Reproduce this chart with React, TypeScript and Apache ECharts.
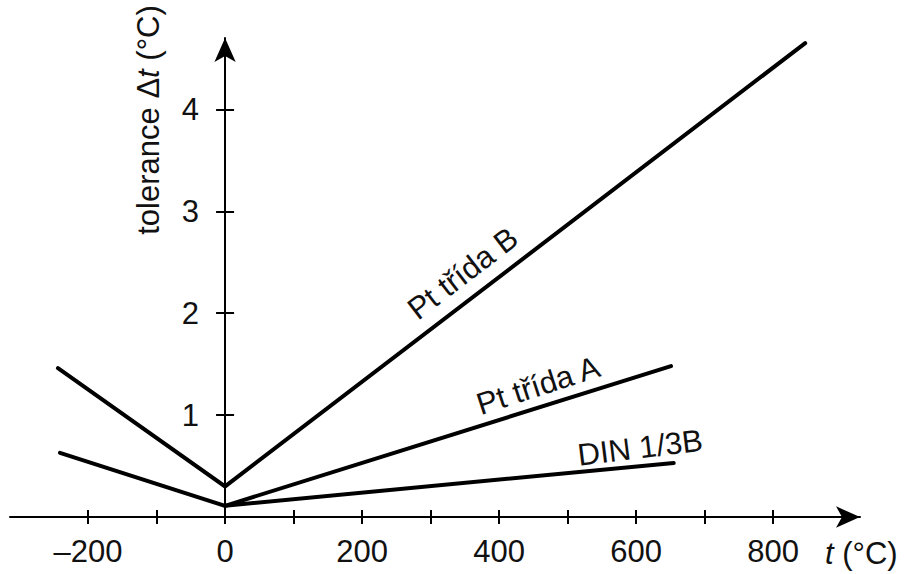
import React, { useEffect, useRef } from 'react';
import * as echarts from 'echarts';

const xTicks = [-200, -100, 0, 100, 200, 300, 400, 500, 600, 700, 800];
const xLabels = [-200, 0, 200, 400, 600, 800];
const yTicks = [1, 2, 3, 4];

const classB: number[][] = [[-244, 1.46], [0, 0.3], [847, 4.65]];
const classA: number[][] = [[-241, 0.63], [0, 0.11], [651, 1.48]];
const din13B: number[][] = [[0, 0.11], [655, 0.53]];

const lineLabels = [
  { text: 'Pt třída B', at: [347, 2.39], angle: 37.5 },
  { text: 'Pt třída A', at: [457, 1.29], angle: 18 },
  { text: 'DIN 1/3B', at: [606, 0.68], angle: 7 },
];

const FONT = '"Liberation Sans", Arial, Helvetica, sans-serif';
const INK = '#111';
const FS = 31;

export default function App() {
  const ref = useRef<HTMLDivElement>(null);
  useEffect(() => {
    if (!ref.current) return;
    const chart = echarts.init(ref.current, undefined, { renderer: 'svg' });
    const W = 921;
    const gLeft = 10, gRight = 61, gTop = 38, gBottom = 57;
    const xMin = -314, xMax = 927, yMin = 0, yMax = 4.7;
    const gridW = W - gLeft - gRight;
    const yOffset = -((0 - xMin) / (xMax - xMin)) * gridW;
    const fmt = (v: number) => (v < 0 ? '\u2013' + Math.abs(v) : String(v));
    const baseX = {
      type: 'value', min: xMin, max: xMax, splitLine: { show: false }, position: 'bottom',
    };
    const baseY = {
      type: 'value', min: yMin, max: yMax, splitLine: { show: false }, position: 'left', offset: yOffset,
    };
    const option: any = {
      animation: false,
      backgroundColor: '#fff',
      grid: {
        left: gLeft, right: gRight, top: gTop, bottom: gBottom,
        containLabel: false, outerBoundsMode: 'none',
      },
      xAxis: [
        {
          ...baseX,
          axisLine: {
            show: true, onZero: false,
            symbol: ['none', 'arrow'], symbolSize: [16, 24],
            lineStyle: { color: '#000', width: 2 },
          },
          axisTick: { show: true, customValues: xTicks, length: 7, lineStyle: { color: '#000', width: 2 } },
          axisLabel: {
            show: true, customValues: xLabels, formatter: fmt, margin: 19,
            fontSize: FS, fontFamily: FONT, color: INK,
          },
        },
        {
          ...baseX,
          axisLine: { show: false, onZero: false },
          axisTick: { show: true, inside: true, customValues: xTicks, length: 7, lineStyle: { color: '#000', width: 2 } },
          axisLabel: { show: false },
        },
      ],
      yAxis: [
        {
          ...baseY,
          axisLine: {
            show: true, onZero: false,
            symbol: ['none', 'arrow'], symbolSize: [16, 24],
            lineStyle: { color: '#000', width: 2 },
          },
          axisTick: { show: true, customValues: yTicks, length: 9, lineStyle: { color: '#000', width: 2 } },
          axisLabel: {
            show: true, customValues: yTicks, margin: 26,
            fontSize: FS, fontFamily: FONT, color: INK,
          },
        },
        {
          ...baseY,
          axisLine: { show: false, onZero: false },
          axisTick: { show: true, inside: true, customValues: yTicks, length: 9, lineStyle: { color: '#000', width: 2 } },
          axisLabel: { show: false },
        },
      ],
      series: [
        { name: 'Pt třída B', data: classB },
        { name: 'Pt třída A', data: classA },
        { name: 'DIN 1/3B', data: din13B },
      ].map((s) => ({
        ...s,
        type: 'line',
        xAxisIndex: 0,
        yAxisIndex: 0,
        symbol: 'none',
        clip: false,
        lineStyle: { color: '#000', width: 4, cap: 'round', join: 'miter' },
      })),
    };
    chart.setOption(option);

    const texts: any[] = lineLabels.map((l) => {
      const p = chart.convertToPixel({ xAxisIndex: 0, yAxisIndex: 0 }, l.at) as number[];
      return {
        type: 'text',
        x: p[0],
        y: p[1],
        rotation: (l.angle * Math.PI) / 180,
        style: {
          text: l.text, fontSize: FS, fontFamily: FONT, fill: INK,
          align: 'center', verticalAlign: 'middle',
        },
      };
    });
    const rich = {
      n: { fontSize: FS, fontFamily: FONT, fill: INK },
      i: { fontSize: FS, fontFamily: FONT, fill: INK, fontStyle: 'italic' },
    };
    texts.push({
      type: 'text',
      x: 148,
      y: 120,
      rotation: Math.PI / 2,
      style: {
        text: '{n|tolerance \u0394}{i|t}{n| (°C)}',
        align: 'center', verticalAlign: 'middle',
        fontSize: FS, fontFamily: FONT, fill: INK,
        rich,
      },
    });
    texts.push({
      type: 'text',
      x: 825,
      y: 553,
      style: {
        text: '{i|t}{n| (°C)}',
        align: 'left', verticalAlign: 'middle',
        fontSize: FS, fontFamily: FONT, fill: INK,
        rich,
      },
    });
    chart.setOption({ graphic: { elements: texts } });
    return () => chart.dispose();
  }, []);
  return (
    <div
      ref={ref}
      style={{ position: 'fixed', left: 0, top: 0, width: 921, height: 574, background: '#fff' }}
    />
  );
}
